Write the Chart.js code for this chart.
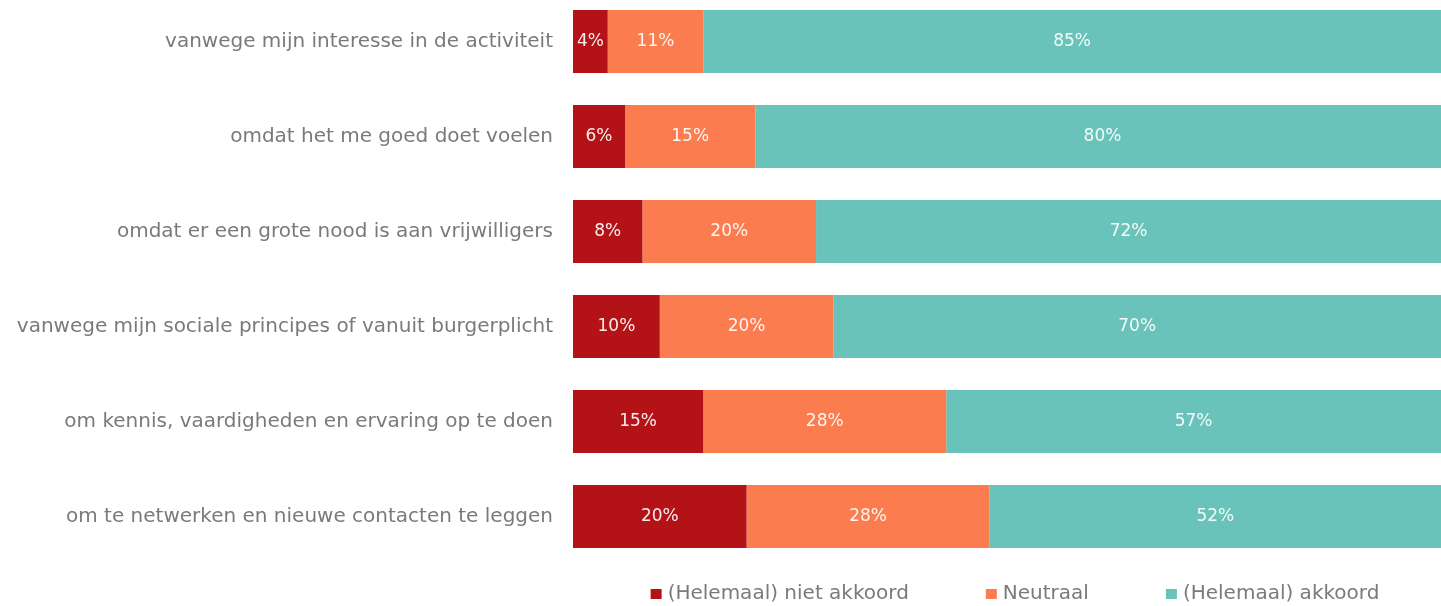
<!DOCTYPE html>
<html>
<head>
<meta charset="utf-8">
<script src="https://cdn.jsdelivr.net/npm/chart.js@4.4.1/dist/chart.umd.min.js"></script>
<style>
  html, body { margin: 0; padding: 0; background: #fff; overflow: hidden; }
  /* canvas is 6px taller and pulled up so the first bar sits near the top edge */
  #wrap { width: 1441px; height: 612px; margin-top: -6px; }
</style>
</head>
<body>
<div id="wrap"><canvas id="chart"></canvas></div>
<script>
const categories = [
  'vanwege mijn interesse in de activiteit',
  'omdat het me goed doet voelen',
  'omdat er een grote nood is aan vrijwilligers',
  'vanwege mijn sociale principes of vanuit burgerplicht',
  'om kennis, vaardigheden en ervaring op te doen',
  'om te netwerken en nieuwe contacten te leggen'
];
const seriesNames = ['(Helemaal) niet akkoord', 'Neutraal', '(Helemaal) akkoord'];
const nietAkkoord = [4, 6, 8, 10, 15, 20];
const neutraal    = [11, 15, 20, 20, 28, 28];
const akkoord     = [85, 80, 72, 70, 57, 52];
const seriesColors = ['#B31217', '#FB7C4E', '#6AC3BA'];

const FONT = "'DejaVu Sans', sans-serif";
const GREY = '#7a7a7a';

// white % labels centred in each segment
const segmentLabels = {
  id: 'segmentLabels',
  afterDatasetsDraw(chart) {
    const ctx = chart.ctx;
    ctx.save();
    ctx.font = `17px ${FONT}`;
    ctx.fillStyle = 'rgba(255,255,255,0.92)';
    ctx.textAlign = 'center';
    ctx.textBaseline = 'middle';
    chart.data.datasets.forEach((ds, i) => {
      chart.getDatasetMeta(i).data.forEach((bar, j) => {
        const cx = (bar.x + bar.base) / 2;
        ctx.fillText(ds.data[j] + '%', cx, bar.y);
      });
    });
    ctx.restore();
  }
};

// legend with wide gaps, like the original
const wideLegend = {
  id: 'wideLegend',
  afterDraw(chart) {
    const ctx = chart.ctx;
    const box = 11, gapText = 6, gapItem = 77;
    ctx.save();
    ctx.font = `20px ${FONT}`;
    ctx.textBaseline = 'middle';
    const items = chart.data.datasets.map(ds => ({
      text: ds.label, color: ds.backgroundColor, w: ctx.measureText(ds.label).width
    }));
    const total = items.reduce((s, it) => s + box + gapText + it.w, 0) + gapItem * (items.length - 1);
    let x = 1015 - total / 2;
    const y = 600;
    items.forEach(it => {
      ctx.fillStyle = it.color;
      ctx.fillRect(x, y - 5, box, 10);
      x += box + gapText;
      ctx.fillStyle = GREY;
      ctx.fillText(it.text, x, y);
      x += it.w + gapItem;
    });
    ctx.restore();
  }
};

new Chart(document.getElementById('chart'), {
  type: 'bar',
  data: {
    labels: categories,
    datasets: [nietAkkoord, neutraal, akkoord].map((d, i) => ({
      label: seriesNames[i],
      data: d,
      backgroundColor: seriesColors[i],
      borderWidth: 0,
      barPercentage: 63 / 95,
      categoryPercentage: 1
    }))
  },
  options: {
    indexAxis: 'y',
    responsive: true,
    maintainAspectRatio: false,
    animation: false,
    layout: { padding: { top: 0, right: 0, bottom: 42, left: 0 } },
    plugins: {
      legend: { display: false },
      tooltip: { enabled: false }
    },
    scales: {
      x: { stacked: true, min: 0, max: 100, display: false },
      y: {
        stacked: true,
        grid: { display: false, drawTicks: false },
        border: { display: false },
        ticks: { color: GREY, font: { family: FONT, size: 20 }, padding: 20 },
        afterFit: s => { s.width = 573; s.paddingTop = 0; s.paddingBottom = 0; }
      }
    }
  },
  plugins: [segmentLabels, wideLegend]
});
</script>
</body>
</html>
